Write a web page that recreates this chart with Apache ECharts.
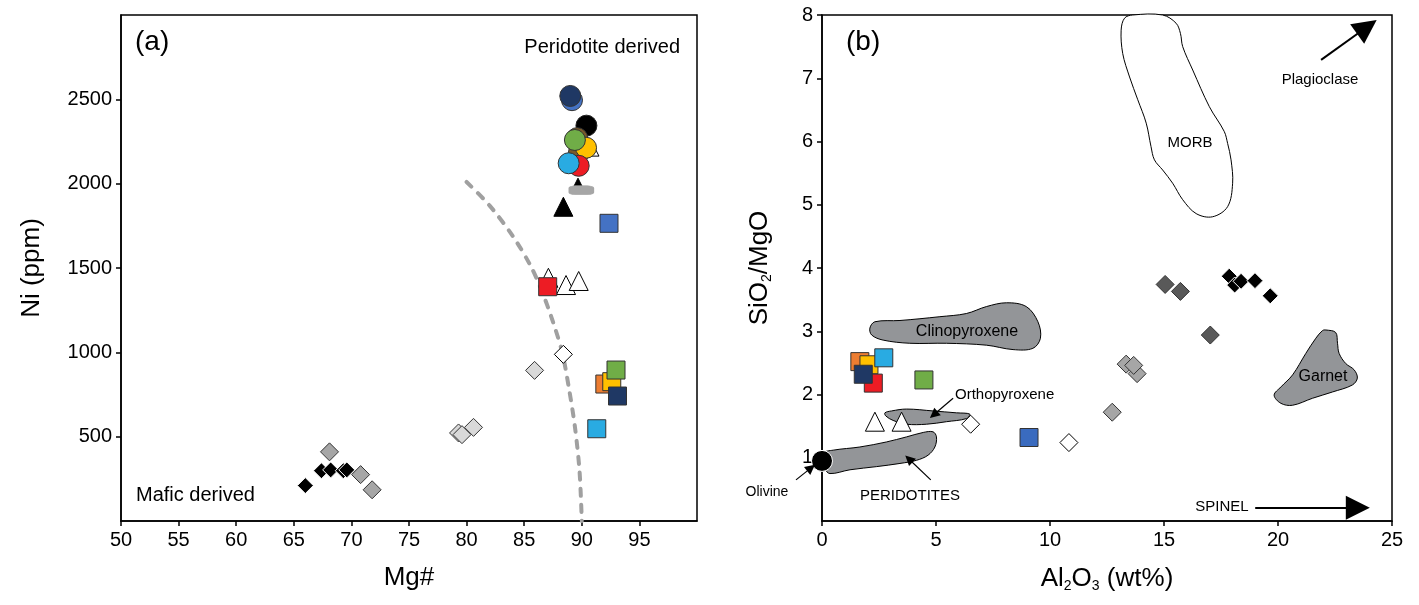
<!DOCTYPE html>
<html>
<head>
<meta charset="utf-8">
<script src="https://cdn.jsdelivr.net/npm/echarts@6/dist/echarts.min.js"></script>
<style>
  html, body { margin: 0; padding: 0; background: #fff; }
  #main { width: 1419px; height: 605px; }
</style>
</head>
<body>
<div id="main"></div>
<script>
// ---- panel (a): Mg# vs Ni (ppm) ----
var aBlueCircle   = [[89.15, 2495]];
var aNavyCircle   = [[89.0, 2520]];
var aBlackCircle  = [[90.4, 2344]];
var aBrownCircle  = [[89.6, 2270], [89.75, 2185]];
var aYellowCircle = [[90.37, 2213]];
var aGreenCircle  = [[89.4, 2259]];
var aRedCircle    = [[89.73, 2106]];
var aCyanCircle   = [[88.86, 2121]];
var aSmallWhiteTri = [[91.1, 2190]];
var aSmallBlackTri = [[89.67, 2006]];
var aGreyBar      = [[89.96, 1961]];
var aBlackTri     = [[88.4, 1863]];
var aWhiteTri     = [[87.1, 1442], [88.63, 1399], [89.73, 1423]];
var aBlueSquare   = [[92.36, 1765]];
var aRedSquare    = [[87.04, 1389]];
var aOrangeSquare = [[92.0, 812]];
var aYellowSquare = [[92.6, 826]];
var aGreenSquare  = [[92.97, 895]];
var aNavySquare   = [[93.1, 741]];
var aCyanSquare   = [[91.3, 547]];
var aWhiteDiamond = [[88.4, 988]];
var aLightDiamond = [[85.9, 893], [79.3, 522], [79.6, 512], [80.6, 555]];
var aGreyDiamond  = [[68.1, 410], [70.8, 275], [71.8, 185]];
var aBlackDiamond = [[66.0, 210], [67.4, 298], [68.2, 303], [69.3, 298], [69.6, 303]];
var aBoundary = [[80, 2010], [82, 1870], [84, 1690], [85.5, 1520], [86.5, 1370], [87.5, 1180],
                 [88.3, 1000], [88.9, 780], [89.4, 560], [89.8, 300], [90, 0]];

// ---- panel (b): Al2O3 vs SiO2/MgO ----
var bOlivine      = [[0, 0.95]];
var bOrangeSquare = [[1.66, 2.52]];
var bYellowSquare = [[2.06, 2.47]];
var bCyanSquare   = [[2.71, 2.58]];
var bRedSquare    = [[2.25, 2.18]];
var bNavySquare   = [[1.81, 2.32]];
var bGreenSquare  = [[4.47, 2.23]];
var bBlueSquare   = [[9.08, 1.32]];
var bWhiteTri     = [[2.32, 1.57], [3.49, 1.57]];
var bWhiteDiamond = [[6.52, 1.53], [10.83, 1.24]];
var bGreyDiamond  = [[12.73, 1.72], [13.34, 2.48], [13.82, 2.33], [13.67, 2.46]];
var bDarkDiamond  = [[15.05, 3.74], [15.72, 3.63], [17.03, 2.94]];
var bBlackDiamond = [[17.86, 3.87], [18.1, 3.73], [18.38, 3.79], [18.99, 3.80], [19.66, 3.56]];

// field outlines (panel b)
var morb = [[13.63, 8.0], [14.94, 8.0], [15.53, 7.87], [15.72, 7.71], [15.82, 7.5], [16.26, 7.13],
            [16.99, 6.55], [17.64, 6.16], [17.79, 5.97], [17.94, 5.71], [18.01, 5.34], [17.79, 4.97],
            [17.13, 4.81], [16.41, 4.86], [15.82, 5.08], [15.38, 5.34], [14.94, 5.55], [14.58, 5.71],
            [14.43, 5.92], [14.22, 6.29], [13.85, 6.66], [13.49, 7.02], [13.19, 7.39], [13.12, 7.76],
            [13.27, 7.95]];
var cpx = [[2.10, 3.05], [2.32, 3.15], [3.42, 3.17], [5.17, 3.23], [6.33, 3.28], [7.21, 3.39],
           [8.09, 3.45], [8.96, 3.39], [9.47, 3.15], [9.58, 2.89], [9.25, 2.73], [8.38, 2.71],
           [7.21, 2.78], [5.46, 2.81], [3.85, 2.81], [2.68, 2.86], [2.18, 2.94]];
var opx = [[2.76, 1.71], [3.05, 1.74], [3.71, 1.77], [4.87, 1.74], [5.90, 1.71], [6.48, 1.69],
           [6.34, 1.62], [5.46, 1.57], [4.58, 1.53], [3.71, 1.53], [3.12, 1.59], [2.80, 1.66]];
var peridotites = [[0.06, 1.07], [0.49, 1.12], [1.66, 1.17], [2.83, 1.25], [3.71, 1.33], [4.44, 1.40],
                   [4.87, 1.41], [5.02, 1.33], [4.95, 1.17], [4.65, 1.04], [4.15, 0.96], [3.42, 0.91],
                   [2.40, 0.86], [1.23, 0.81], [0.35, 0.75], [0.13, 0.83]];
var garnet = [[22.10, 3.02], [22.53, 2.98], [22.61, 2.81], [22.68, 2.65], [22.97, 2.49], [23.34, 2.39],
              [23.48, 2.26], [23.26, 2.15], [22.39, 2.04], [21.51, 1.94], [20.64, 1.83], [20.13, 1.86],
              [19.83, 1.99], [20.13, 2.12], [20.64, 2.31], [21.22, 2.65], [21.66, 2.89], [21.95, 3.01]];

var bigArrows = [
  [[21.89, 7.29], [23.9, 7.81]],   // Plagioclase
  [[19.0, 0.21], [23.5, 0.21]]     // SPINEL
];
var smallArrows = [
  [[5.75, 1.94], [4.90, 1.68]],    // Orthopyroxene
  [[4.77, 0.65], [3.81, 0.98]],    // PERIDOTITES
  [[-1.14, 0.65], [-0.48, 0.84]]   // Olivine
];

var FONT = '"Liberation Sans", Arial, Helvetica, sans-serif';

function scatter(g, data, symbol, size, fill, stroke) {
  return {
    type: 'scatter', xAxisIndex: g, yAxisIndex: g, data: data,
    symbol: symbol, symbolSize: size, clip: false, silent: true,
    itemStyle: { color: fill, borderColor: stroke, borderWidth: 1, opacity: 1 }
  };
}

function field(poly, fill, stroke, width) {
  return {
    type: 'custom', xAxisIndex: 1, yAxisIndex: 1, data: [[0, 0]], silent: true, z: 1,
    renderItem: function (params, api) {
      return {
        type: 'polygon',
        shape: { points: poly.map(function (p) { return api.coord(p); }), smooth: 0.35 },
        style: { fill: fill, stroke: stroke, lineWidth: width }
      };
    }
  };
}

function arrows(list, size, width) {
  return {
    type: 'lines', coordinateSystem: 'cartesian2d', xAxisIndex: 1, yAxisIndex: 1,
    clip: false, silent: true, z: 4,
    symbol: ['none', 'triangle'], symbolSize: size,
    lineStyle: { color: '#000', width: width, opacity: 1, curveness: 0 },
    data: list.map(function (a) { return { coords: a }; })
  };
}

function axisLabel(extra) {
  return Object.assign({
    color: '#000', fontSize: 20, fontFamily: FONT, margin: 9,
    formatter: function (v) { return String(v); }
  }, extra || {});
}

function ax(extra) {
  return Object.assign({
    axisLine: { show: true, onZero: false, lineStyle: { color: '#000', width: 1.5 } },
    axisTick: { show: true, length: 5, lineStyle: { color: '#000', width: 1.5 } },
    splitLine: { show: false },
    axisLabel: axisLabel(),
    nameLocation: 'middle',
    nameTextStyle: {
      color: '#000', fontSize: 26, fontFamily: FONT,
      rich: { sub: { fontSize: 14, fontFamily: FONT, color: '#000', padding: [14, 0, 0, 0] } }
    }
  }, extra);
}

function txt(x, y, s, size, align) {
  return {
    type: 'text', x: x, y: y, z: 100, silent: true,
    style: { text: s, fontSize: size, fontFamily: FONT, fill: '#000',
             align: align || 'center', verticalAlign: 'middle' }
  };
}

var chart = echarts.init(document.getElementById('main'));

var option = {
  backgroundColor: '#fff',
  animation: false,
  grid: [
    { left: 121, top: 15, width: 576, height: 506, show: true, borderColor: '#000', borderWidth: 1.5 },
    { left: 822, top: 15, width: 570, height: 506, show: true, borderColor: '#000', borderWidth: 1.5 }
  ],
  xAxis: [
    ax({ type: 'value', gridIndex: 0, min: 50, max: 100, interval: 5, name: 'Mg#', nameGap: 44,
         axisLabel: axisLabel({ showMaxLabel: false }) }),
    ax({ type: 'value', gridIndex: 1, min: 0, max: 25, interval: 5,
         name: 'Al{sub|2}O{sub|3} (wt%)', nameGap: 44 })
  ],
  yAxis: [
    ax({ type: 'value', gridIndex: 0, min: 0, max: 3000, interval: 500, name: 'Ni (ppm)', nameGap: 76,
         axisLabel: axisLabel({ showMinLabel: false, showMaxLabel: false }) }),
    ax({ type: 'value', gridIndex: 1, min: 0, max: 8, interval: 1, name: 'SiO{sub|2}/MgO', nameGap: 48,
         axisLabel: axisLabel({ showMinLabel: false }) })
  ],
  graphic: [
    txt(135, 42, '(a)', 28, 'left'),
    txt(680, 47, 'Peridotite derived', 20, 'right'),
    txt(136, 495, 'Mafic derived', 20, 'left'),
    txt(846, 42, '(b)', 28, 'left'),
    txt(1190, 143, 'MORB', 15),
    txt(1320, 80, 'Plagioclase', 15),
    txt(967, 332, 'Clinopyroxene', 16),
    txt(955, 395, 'Orthopyroxene', 15, 'left'),
    txt(1323, 377, 'Garnet', 16),
    txt(910, 496, 'PERIDOTITES', 15),
    txt(767, 492, 'Olivine', 14),
    txt(1222, 507, 'SPINEL', 15)
  ],
  series: [
    // panel (a)
    {
      type: 'line', xAxisIndex: 0, yAxisIndex: 0, data: aBoundary, symbol: 'none', smooth: 0.3,
      silent: true, z: 1,
      lineStyle: { color: '#a0a0a0', width: 4, type: [7, 9], cap: 'round' }
    },
    scatter(0, aBlueCircle, 'circle', 21, '#4472c4', '#333'),
    scatter(0, aNavyCircle, 'circle', 21, '#1f3864', '#333'),
    scatter(0, aBlackCircle, 'circle', 21, '#000', '#222'),
    scatter(0, aSmallWhiteTri, 'triangle', 9, '#fff', '#000'),
    scatter(0, aBrownCircle, 'circle', 21, '#7b5a2a', '#333'),
    scatter(0, aYellowCircle, 'circle', 21, '#ffc000', '#333'),
    scatter(0, aGreenCircle, 'circle', 21, '#70ad47', '#333'),
    scatter(0, aRedCircle, 'circle', 21, '#ed1c24', '#333'),
    scatter(0, aCyanCircle, 'circle', 21, '#29abe2', '#333'),
    scatter(0, aSmallBlackTri, 'triangle', 9, '#000', '#000'),
    scatter(0, aGreyBar, 'roundRect', [24, 9], '#a6a6a6', '#a6a6a6'),
    scatter(0, aBlackTri, 'triangle', 19, '#000', '#000'),
    scatter(0, aWhiteTri, 'triangle', 19, '#fff', '#000'),
    scatter(0, aBlueSquare, 'rect', 18, '#4472c4', '#333'),
    scatter(0, aRedSquare, 'rect', 18, '#ed1c24', '#333'),
    scatter(0, aOrangeSquare, 'rect', 18, '#ed7d31', '#333'),
    scatter(0, aYellowSquare, 'rect', 18, '#ffc000', '#333'),
    scatter(0, aGreenSquare, 'rect', 18, '#70ad47', '#333'),
    scatter(0, aNavySquare, 'rect', 18, '#1f3864', '#333'),
    scatter(0, aCyanSquare, 'rect', 18, '#29abe2', '#333'),
    scatter(0, aWhiteDiamond, 'diamond', 18, '#fff', '#000'),
    scatter(0, aLightDiamond, 'diamond', 18, '#d9d9d9', '#333'),
    scatter(0, aGreyDiamond, 'diamond', 18, '#a6a6a6', '#333'),
    scatter(0, aBlackDiamond, 'diamond', 16, '#000', '#fff'),

    // panel (b)
    field(morb, '#fff', '#000', 1),
    field(cpx, '#939598', '#000', 1),
    field(opx, '#939598', '#000', 1),
    field(peridotites, '#939598', '#000', 1),
    field(garnet, '#939598', '#000', 1),
    arrows(bigArrows, [11, 24], 2),
    arrows(smallArrows, [7, 10], 1.2),
    scatter(1, bOlivine, 'circle', 21, '#000', '#fff'),
    scatter(1, bOrangeSquare, 'rect', 18, '#ed7d31', '#333'),
    scatter(1, bYellowSquare, 'rect', 18, '#ffc000', '#333'),
    scatter(1, bCyanSquare, 'rect', 18, '#29abe2', '#333'),
    scatter(1, bRedSquare, 'rect', 18, '#ed1c24', '#333'),
    scatter(1, bNavySquare, 'rect', 18, '#1f3864', '#333'),
    scatter(1, bGreenSquare, 'rect', 18, '#70ad47', '#333'),
    scatter(1, bBlueSquare, 'rect', 18, '#3a6bbf', '#333'),
    scatter(1, bWhiteTri, 'triangle', 19, '#fff', '#000'),
    scatter(1, bWhiteDiamond, 'diamond', 18, '#fff', '#000'),
    scatter(1, bGreyDiamond, 'diamond', 18, '#a6a6a6', '#333'),
    scatter(1, bDarkDiamond, 'diamond', 18, '#595959', '#333'),
    scatter(1, bBlackDiamond, 'diamond', 16, '#000', '#fff')
  ]
};

chart.setOption(option);
</script>
</body>
</html>
